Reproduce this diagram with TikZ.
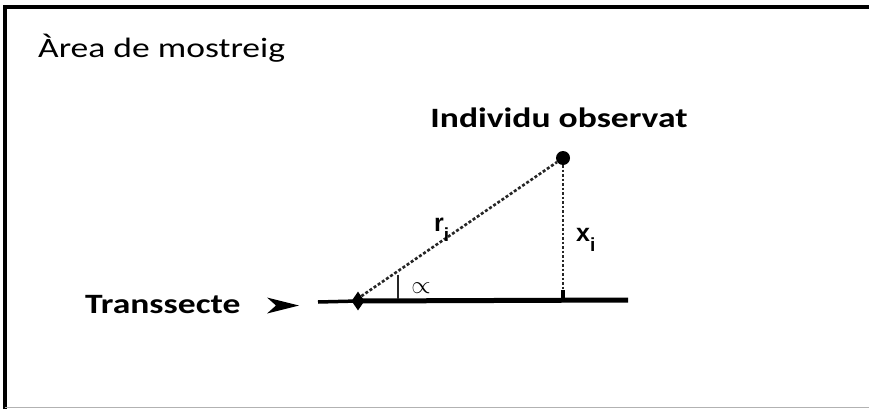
\documentclass[tikz,border=0pt]{standalone}
\usepackage{fontspec}
\setmainfont{Carlito}
\newfontfamily\symfont{Liberation Sans}
\usetikzlibrary{positioning,shapes.geometric,calc}

\newcommand{\widetext}[1]{\scalebox{1.27}[1]{#1}}

\tikzset{
  lbl/.style={font=\fontsize{28}{32}\selectfont,inner sep=0pt},
  sym/.style={font=\symfont\bfseries\fontsize{25}{28}\selectfont,inner sep=0pt}
}

\begin{document}
\begin{tikzpicture}[x=1pt,y=-1pt]
  \useasboundingbox (0,0) rectangle (869,409);
  % frame of the sampling area
  \draw[line width=3.5pt] (5,409) -- (5,7) -- (869,7);
  \draw[gray!60,line width=1.2pt] (5,407.5) -- (869,407.5);
  \node[lbl,anchor=base west] (area) at (38,58) {\widetext{Àrea de mostreig}};

  % observed individual and transect
  \node[circle,fill,inner sep=0pt,minimum size=14pt] (ind) at (563,158) {};
  \node[lbl,anchor=base,font=\fontsize{28}{32}\selectfont\bfseries] (indlbl) at (559,128) {\widetext{Individu observat}};
  \node[diamond,fill,inner sep=0pt,minimum width=13pt,minimum height=19pt] (obs) at (358,301) {};
  \coordinate (start) at (318,302);
  \coordinate (end) at (628,300);
  \coordinate (foot) at (563,300);
  \node[lbl,anchor=base west,font=\fontsize{28}{32}\selectfont\bfseries] (trans) at (85,313) {\widetext{Transsecte}};
  \fill (267,297.5) -- (299,305.5) -- (267,313.5) -- (276,305.5) -- cycle;

  \draw[line width=3.5pt] (start) -- (obs.center);
  \draw[line width=5pt] (obs.center) -- (end);
  \draw[line width=2.6pt,dash pattern=on 3pt off 2pt,black!85] (obs.north east) -- (ind);
  \draw[line width=2.6pt,dash pattern=on 2.5pt off 2pt,black!85] (ind) -- (foot);
  \draw[line width=3.5pt] ($(foot)+(0,-10)$) -- (foot);

  % angle mark
  \coordinate (angtop) at (398,274.6);
  \draw[line width=2pt,black!85] (angtop) -- (398,299);
  \node[font=\fontsize{30}{32}\selectfont,inner sep=0pt] (alpha) at (421,288) {$\propto$};

  % labels of the distances
  \node[sym,anchor=base west] (rlbl) at (434,231) {r\raisebox{-10pt}{\fontsize{19}{20}\selectfont i}};
  \node[sym,anchor=base west] (xlbl) at (576,241) {x\raisebox{-10pt}{\fontsize{19}{20}\selectfont i}};
\end{tikzpicture}
\end{document}
